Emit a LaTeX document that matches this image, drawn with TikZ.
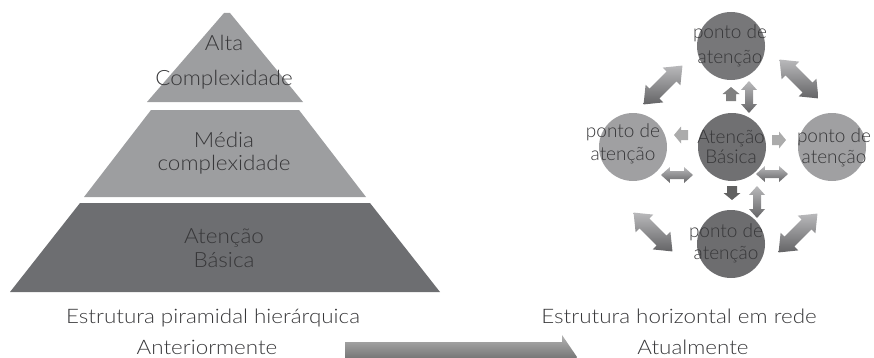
\documentclass[tikz,border=0pt]{standalone}
\usepackage{fontspec}
\IfFontExistsTF{Lato Light}{\def\myfam{Lato Light}}{\def\myfam{Lato}}
\setmainfont{\myfam}
\newfontfamily\capfont[FakeStretch=1.12]{\myfam}
\newfontfamily\pyrfont[FakeStretch=1.07]{\myfam}
\definecolor{pyrlight}{RGB}{157,158,160}
\definecolor{pyrdark}{RGB}{109,110,113}
\definecolor{txtc}{RGB}{55,55,57}
\definecolor{circdark}{RGB}{112,112,114}
\definecolor{circlight}{RGB}{160,160,162}
\definecolor{arrlight}{RGB}{185,185,187}
\definecolor{arrdark}{RGB}{100,100,102}
\newcommand{\mydbl}[5]{%
  \begin{scope}[shift={(#1)},rotate=#2]
    \shade[dblshade] (-#3/2,0) -- (-#3/2+#3*0.28,#5) -- (-#3/2+#3*0.28,#4)
      -- (#3/2-#3*0.28,#4) -- (#3/2-#3*0.28,#5) -- (#3/2,0)
      -- (#3/2-#3*0.28,-#5) -- (#3/2-#3*0.28,-#4) -- (-#3/2+#3*0.28,-#4)
      -- (-#3/2+#3*0.28,-#5) -- cycle;
  \end{scope}}
\newcommand{\mysarr}[3]{%
  \begin{scope}[shift={(#1)},rotate=#2]
    \fill[#3] (-7,-5) -- (0,-5) -- (0,-8.5) -- (7,0) -- (0,8.5) -- (0,5) -- (-7,5) -- cycle;
  \end{scope}}
\begin{document}
\begin{tikzpicture}[x=1pt,y=1pt,
  pyrtxt/.style={anchor=base,text=txtc,inner sep=0pt,font=\pyrfont\fontsize{21}{21}\selectfont},
  captxt/.style={anchor=base,text=txtc,inner sep=0pt,font=\capfont\fontsize{20}{20}\selectfont},
  ctxt/.style={anchor=base,text=txtc,inner sep=0pt,font=\fontsize{19}{19}\selectfont},
  circ/.style={circle,minimum size=68pt,inner sep=0pt},
  dblshade/.style={top color=arrlight,bottom color=arrdark}]
\useasboundingbox (0,0) rectangle (874,357);
\clip (0,0) rectangle (874,357);
% pyramid
\fill[pyrlight] (147,255) -- (303,255) -- (230,344) -- (224,344) -- cycle;
\fill[pyrlight] (84,160) -- (366,160) -- (299,247) -- (151,247) -- cycle;
\fill[pyrdark] (10,65) -- (440,65) -- (370,154) -- (80,154) -- cycle;
\node[pyrtxt] (alta) at (224,307) {Alta};
\node[pyrtxt] (complex) at (224,272) {Complexidade};
\node[pyrtxt] (media) at (224,210) {Média};
\node[pyrtxt] (mcomplex) at (224,187) {complexidade};
\node[pyrtxt] (aten) at (224,114) {Atenção};
\node[pyrtxt] (basica) at (224,90) {Básica};
% captions
\node[captxt] (estpir) at (213,34) {Estrutura piramidal hierárquica};
\node[captxt] (anter) at (207,3) {Anteriormente};
\node[captxt] (esthor) at (679,34) {Estrutura horizontal em rede};
\node[captxt] (atual) at (693,3) {Atualmente};
% big transition arrow
\coordinate (bigS) at (345,0);
\coordinate (bigE) at (577,0);
\shade[top color=black!30,bottom color=black!75] (bigS) ++(0,15) -- (562,15) -- (562,22) -- (bigE) -- (562,-22) -- (562,-15) -- (345,-15) -- cycle;
% circles
\node[circ,fill=circdark] (C) at (732,210) {};
\node[circ,fill=circdark!95!white] (T) at (731,311) {};
\node[circ,fill=circdark!97!black] (B) at (731,113) {};
\node[circ,fill=circlight] (L) at (633,210) {};
\node[circ,fill=circlight] (R) at (832,210) {};
% arrow anchors
\coordinate (aTL) at (663,272);
\coordinate (aTR) at (799,278);
\coordinate (aBL) at (653,125);
\coordinate (aBR) at (798,124);
\coordinate (dT) at (749,260);
\coordinate (dB) at (757,155);
\coordinate (dL) at (677,182);
\coordinate (dR) at (772,183);
\coordinate (sU) at (731,263);
\coordinate (sD) at (732,164);
\coordinate (sL) at (681,222);
\coordinate (sR) at (779,217);
% large diagonal double arrows
\mydbl{aTL}{45}{55}{7}{12.5}
\mydbl{aTR}{-45}{55}{7}{12.5}
\mydbl{aBL}{-45}{55}{7}{12.5}
\mydbl{aBR}{45}{55}{7}{12.5}
% small double arrows
\mydbl{dT}{90}{32}{4}{8}
\mydbl{dB}{90}{32}{4}{8}
\mydbl{dL}{0}{32}{4}{8}
\mydbl{dR}{0}{32}{4}{8}
% small single arrows
\mysarr{sU}{90}{black!50}
\mysarr{sD}{270}{black!62}
\mysarr{sL}{180}{black!33}
\mysarr{sR}{0}{black!33}
% circle texts
\node[ctxt] (Tt1) at (730,318) {ponto de};
\node[ctxt] (Tt2) at (730,294) {atenção};
\node[ctxt] (Ct1) at (731,214) {Atenção};
\node[ctxt] (Ct2) at (731,194) {Básica};
\node[ctxt] (Lt1) at (623,220) {ponto de};
\node[ctxt] (Lt2) at (623,197) {atenção};
\node[ctxt] (Rt1) at (834,215) {ponto de};
\node[ctxt] (Rt2) at (834,194) {atenção};
\node[ctxt] (Bt1) at (726,120) {ponto de};
\node[ctxt] (Bt2) at (726,98) {atenção};
\end{tikzpicture}
\end{document}
